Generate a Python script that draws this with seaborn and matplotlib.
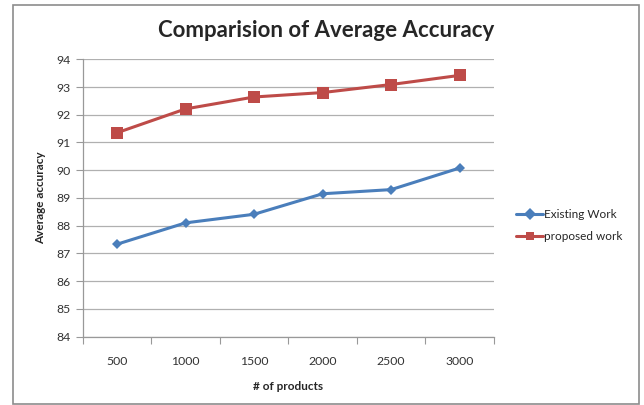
import matplotlib
matplotlib.use("Agg")
import matplotlib.pyplot as plt
import seaborn as sns
import pandas as pd
from matplotlib.patches import Rectangle

# data
products = ["500", "1000", "1500", "2000", "2500", "3000"]
existing_work = [87.33, 88.1, 88.41, 89.15, 89.3, 90.08]
proposed_work = [91.35, 92.21, 92.64, 92.8, 93.09, 93.42]
series_names = ["Existing Work", "proposed work"]

df = pd.DataFrame({
    "products": products * 2,
    "accuracy": existing_work + proposed_work,
    "series": [series_names[0]] * len(products) + [series_names[1]] * len(products),
})

sns.set_theme(style="white")
plt.rcParams['font.family'] = ['Lato', 'DejaVu Sans']

fig = plt.figure(figsize=(6.44, 4.05), dpi=100)
ax = fig.add_axes([0.1284, 0.169, 0.6386, 0.6846])

palette = {series_names[0]: "#4A7EBB", series_names[1]: "#BE4B48"}
sns.lineplot(data=df, x="products", y="accuracy", hue="series", style="series",
             markers={series_names[0]: "D", series_names[1]: "s"}, dashes=False,
             palette=palette, linewidth=2.2, markeredgewidth=0, ax=ax, sort=False)
for line, ms in zip(ax.lines, [5.5, 8]):
    line.set_markersize(ms)

ax.set_ylim(84, 94)
ax.set_yticks(range(84, 95))
ax.set_xlim(-0.5, 5.5)
ax.set_xticks(range(len(products)))
ax.set_xticks([i - 0.5 for i in range(len(products) + 1)], minor=True)
ax.tick_params(axis="x", which="major", length=0, pad=14, labelsize=8.8, colors="#333333")
ax.tick_params(axis="x", which="minor", length=5, width=0.8, color="#999999", direction="out", bottom=True)
ax.tick_params(axis="y", length=5, width=0.8, color="#999999", direction="out", left=True,
               labelsize=8.8, labelcolor="#333333", pad=4)
ax.grid(axis="y", color="#b0b0b0", linewidth=0.9)
ax.set_axisbelow(True)
for side in ["top", "right"]:
    ax.spines[side].set_visible(False)
for side in ["left", "bottom"]:
    ax.spines[side].set_color("#999999")
    ax.spines[side].set_linewidth(0.9)

ax.set_xlabel("# of products", fontsize=8.5, fontweight="bold", labelpad=10)
ax.set_ylabel("Average accuracy", fontsize=8.5, fontweight="bold", labelpad=7)

fig.text(0.506, 0.925, "Comparision of Average Accuracy", ha="center", va="center",
         fontsize=16, fontweight="bold")

handles, labels = ax.get_legend_handles_labels()
ax.legend_.remove()
fig.legend(handles, labels, loc="center left", bbox_to_anchor=(0.785, 0.443),
           frameon=False, fontsize=8.5, handlelength=2.3, handletextpad=0.1,
           labelspacing=0.9)

fig.patches.append(Rectangle((13 / 644, 0.002), 626 / 644, 1 - 5 / 405 - 0.002,
                             transform=fig.transFigure, fill=False,
                             edgecolor="#8c8c8c", linewidth=1.2))

fig.savefig("out.png", dpi=100)
